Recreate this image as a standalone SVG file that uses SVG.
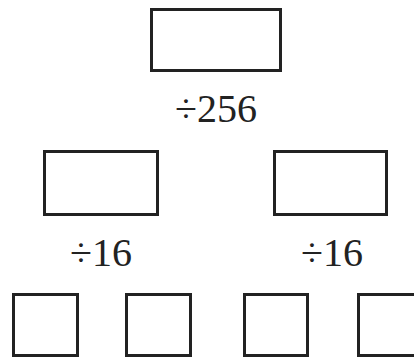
<svg xmlns="http://www.w3.org/2000/svg" width="414" height="358" viewBox="0 0 414 358">
<style>
.box{fill:#fff;stroke:#222;stroke-width:3}
.lbl{font-family:"Liberation Serif","Times New Roman",serif;font-size:40px;fill:#222;text-anchor:middle}
</style>
<rect width="414" height="358" fill="#fff"/>
<g id="top"><rect class="box" x="151.5" y="9.5" width="129" height="61"/></g>
<g id="midL"><rect class="box" x="44.5" y="151.5" width="113" height="63"/></g>
<g id="midR"><rect class="box" x="274.5" y="151.5" width="112" height="63"/></g>
<g id="b1"><rect class="box" x="13.5" y="294.5" width="64" height="61"/></g>
<g id="b2"><rect class="box" x="126.5" y="294.5" width="64" height="61"/></g>
<g id="b3"><rect class="box" x="244.5" y="294.5" width="63" height="61"/></g>
<g id="b4"><rect class="box" x="358.5" y="294.5" width="64" height="61"/></g>
<g id="connectors"></g>
<g id="labels">
<text class="lbl" x="216" y="122">÷256</text>
<text class="lbl" x="101" y="266">÷16</text>
<text class="lbl" x="332" y="266">÷16</text>
</g>
</svg>
